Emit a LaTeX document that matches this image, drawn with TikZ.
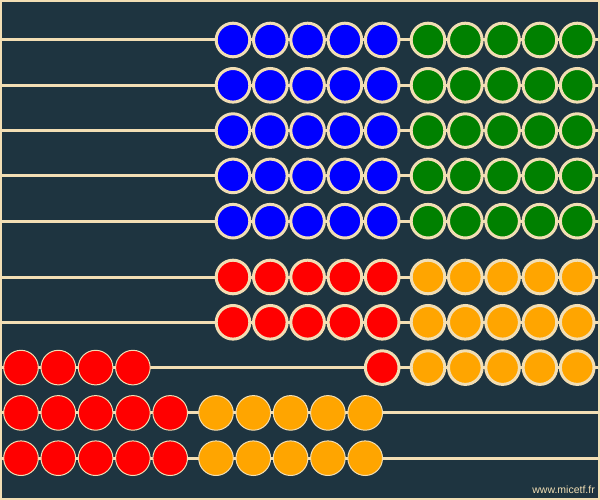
\documentclass[tikz,border=0pt]{standalone}
\usepackage{fontspec}
\setsansfont{Liberation Sans}
\usepackage{xcolor}
\usepackage{tikz}
\usetikzlibrary{positioning}

\definecolor{board}{HTML}{1E3440}
\definecolor{wood}{HTML}{F2DEB4}
\definecolor{beadblue}{HTML}{0000FF}
\definecolor{beadgreen}{HTML}{008000}
\definecolor{beadred}{HTML}{FF0000}
\definecolor{beadorange}{HTML}{FFA500}

\begin{document}
\begin{tikzpicture}[x=1pt, y=-1pt,
  frame/.style={draw=wood, line width=2pt, fill=board},
  rod/.style={draw=wood, line width=3pt},
  bead/.style={circle, draw=wood, line width=3pt, minimum size=33.6pt, inner sep=0pt},
  flatbead/.style={circle, draw=wood, line width=1pt, minimum size=34.6pt, inner sep=0pt},
  credit/.style={font=\sffamily\fontsize{10.5}{12}\selectfont, text=wood, anchor=east, inner sep=0pt}
]
% Board
\useasboundingbox (0,0) rectangle (600,500);
\draw[frame] (1,1) rectangle (599,499);

% Rods
\foreach \r/\y in {1/40, 2/85.3, 3/130.6, 4/175.9, 5/221.2, 6/277, 7/322.3, 8/367.6, 9/412.9, 10/458.2} {
  \coordinate (rodL\r) at (0,\y);
  \coordinate (rodR\r) at (600,\y);
  \draw[rod] (rodL\r) -- (rodR\r);
}

% Rows 1-5: blue and green
\foreach \r/\y in {1/40, 2/85.3, 3/130.6, 4/175.9, 5/221.2}
  \foreach \i in {0,...,4} {
    \node[bead, fill=beadblue] (b\r-\i) at (233+37.3*\i,\y) {};
    \node[bead, fill=beadgreen] (g\r-\i) at (428+37.3*\i,\y) {};
  }

% Rows 6-7: red and orange
\foreach \r/\y in {6/277, 7/322.3}
  \foreach \i in {0,...,4} {
    \node[bead, fill=beadred] (r\r-\i) at (233+37.3*\i,\y) {};
    \node[bead, fill=beadorange] (o\r-\i) at (428+37.3*\i,\y) {};
  }

% Row 8
\foreach \i in {0,...,3}
  \node[flatbead, fill=beadred] (l8-\i) at (21+37.3*\i,367.6) {};
\node[bead, fill=beadred] (r8-4) at (382.2,367.6) {};
\foreach \i in {0,...,4}
  \node[bead, fill=beadorange] (o8-\i) at (428+37.3*\i,367.6) {};

% Rows 9-10
\foreach \r/\y in {9/412.9, 10/458.2}
  \foreach \i in {0,...,4} {
    \node[flatbead, fill=beadred] (l\r-\i) at (21+37.3*\i,\y) {};
    \node[flatbead, fill=beadorange] (m\r-\i) at (216+37.3*\i,\y) {};
  }

% Credit
\node[credit] (site) at (595,490) {www.micetf.fr};
\end{tikzpicture}
\end{document}
